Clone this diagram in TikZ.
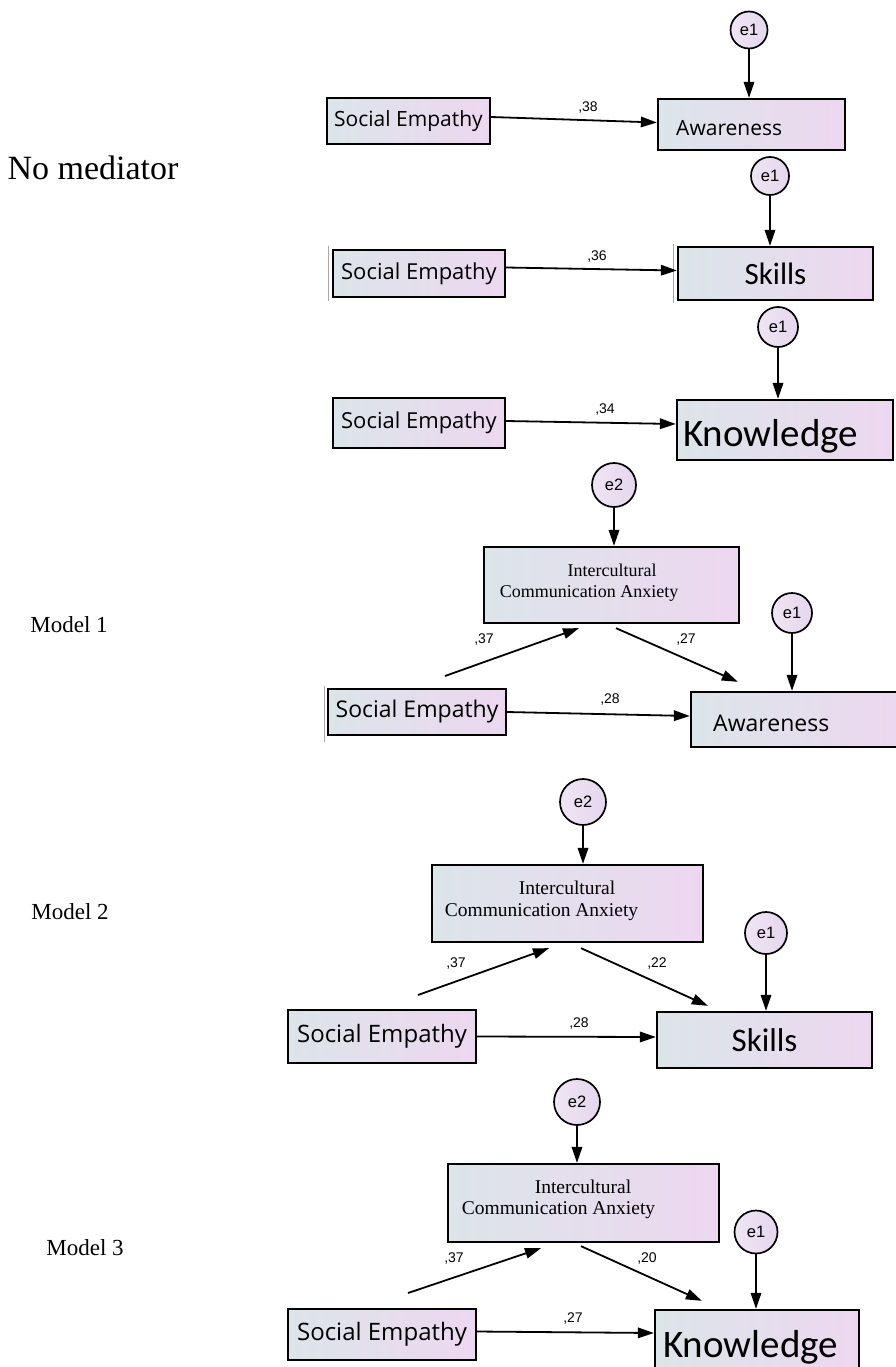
\documentclass[tikz,border=0pt]{standalone}
\usepackage{fontspec}
\setmainfont{Liberation Serif}
\newfontfamily\osans{Open Sans}
\newfontfamily\calib{Carlito}
\newfontfamily\arialf{Liberation Sans}
\usetikzlibrary{arrows.meta,calc}
\definecolor{boxL}{HTML}{DCE5E9}
\definecolor{boxR}{HTML}{EDD7F0}
\definecolor{cirL}{HTML}{EFE5F3}
\definecolor{cirR}{HTML}{E5D6EE}
\tikzset{
  box/.style={draw=black, line width=2.3pt, left color=boxL, right color=boxR, inner sep=0pt},
  err/.style={circle, draw=black, line width=1.7pt, left color=cirL, right color=cirR, inner sep=0pt,
    font=\arialf\fontsize{16.5}{16.5}\selectfont},
  arr/.style={line width=1.8pt, -{Triangle[length=16pt,width=10.5pt]}},
  coef/.style={font=\arialf\fontsize{14}{14}\selectfont, inner sep=0pt},
  ttl/.style={inner sep=0pt},
  icat/.style={inner sep=0pt, font=\fontsize{18}{18}\selectfont},
  thin/.style={draw=gray!70, line width=0.7pt}
}
\begin{document}
\begin{tikzpicture}[x=1pt,y=-1pt]
\fill[white] (0,0) rectangle (896,1367);
\useasboundingbox (0,0) rectangle (896,1367);

% ---------- No mediator ----------
\node[ttl, font=\fontsize{34}{34}\selectfont] (nomed) at (93,168) {No mediator};

% section 1
\node[err, minimum size=37pt] (e1a) at (749,30) {e1};
\node[box, minimum width=163pt, minimum height=46pt, font=\osans\fontsize{21}{21}\selectfont] (se1) at (408.5,121) {Social Empathy};
\node[box, minimum width=187pt, minimum height=51pt] (aw1) at (751.5,124.5) {};
\node[ttl, anchor=west, font=\osans\fontsize{21}{21}\selectfont] (aw1t) at (676,128) {Awareness};
\draw[arr] ($(se1.east)+(0,-4)$) -- ($(aw1.west)+(0,-2)$);
\draw[arr] (e1a) -- (e1a |- aw1.north);
\node[coef] (c38) at (588,108) {,38};

% section 2
\node[err, minimum size=38pt] (e1b) at (770,176) {e1};
\node[box, minimum width=195pt, minimum height=53pt, font=\calib\fontsize{31}{31}\selectfont] (sk2) at (775.5,273.5) {Skills};
\node[box, minimum width=172pt, minimum height=47pt, font=\osans\fontsize{22}{22}\selectfont] (se2) at (419,273.5) {Social Empathy};
\draw[thin] ($(sk2.north west)+(-4,-2)$) -- ($(sk2.south west)+(-4,2)$);
\draw[thin] ($(se2.north west)+(-4,-3)$) -- ($(se2.south west)+(-4,3)$);
\draw[arr] ($(se2.east)+(0,-6)$) -- ($(sk2.west)+(0,-3)$);
\draw[arr] (e1b) -- (e1b |- sk2.north);
\node[coef] (c36) at (597,257) {,36};

% section 3
\node[err, minimum size=40pt] (e1c) at (778,327) {e1};
\node[box, minimum width=216pt, minimum height=60pt] (kn3) at (785,430) {};
\node[ttl, anchor=west, font=\calib\fontsize{39}{39}\selectfont] (kn3t) at (683,436) {Knowledge};
\node[box, minimum width=172pt, minimum height=50pt, font=\osans\fontsize{22}{22}\selectfont] (se3) at (419,423) {Social Empathy};
\draw[arr] ($(se3.east)+(0,-2)$) -- ($(kn3.west)+(0,-6)$);
\draw[arr] (e1c) -- (e1c |- kn3.north);
\node[coef] (c34) at (605,410) {,34};

% ---------- Model 1 ----------
\node[ttl, font=\fontsize{23}{23}\selectfont] (m1) at (69,625) {Model 1};
\node[err, minimum size=44pt] (e2m1) at (614,485) {e2};
\node[box, minimum width=255pt, minimum height=76pt] (ica1) at (611.5,585) {};
\node[icat] (ica1a) at (612,570) {Intercultural};
\node[icat] (ica1b) at (589,593) {Communication Anxiety};
\draw[arr] (e2m1) -- (e2m1 |- ica1.north);
\node[err, minimum size=40pt] (e1m1) at (792,613) {e1};
\node[box, minimum width=214pt, minimum height=55pt] (aw4) at (798,719.5) {};
\node[ttl, anchor=west, font=\osans\fontsize{23}{23}\selectfont] (aw4t) at (713,723) {Awareness};
\node[box, minimum width=178pt, minimum height=46pt, font=\osans\fontsize{23}{23}\selectfont] (se4) at (417,712) {Social Empathy};
\draw[thin] ($(se4.north west)+(-3,-2)$) -- ($(se4.south west)+(-3,6)$);
\draw[arr] (se4.east) -- ($(aw4.west)+(0,-3.5)$);
\draw[arr] (e1m1) -- (e1m1 |- aw4.north);
\coordinate (m1a) at (445,676);
\draw[arr] (m1a) -- ($(ica1.south)+(-32.5,4)$);
\draw[arr] ($(ica1.south)+(4.5,4)$) -- ($(aw4.north west)+(48,-9)$);
\node[coef] (c28a) at (610,700) {,28};
\node[coef] (c37a) at (484,640) {,37};
\node[coef] (c27a) at (686,640) {,27};

% ---------- Model 2 ----------
\node[ttl, font=\fontsize{23}{23}\selectfont] (m2) at (70,912) {Model 2};
\node[err, minimum size=46pt] (e2m2) at (583,802) {e2};
\node[box, minimum width=271pt, minimum height=77pt] (ica2) at (567.5,903.5) {};
\node[icat, font=\fontsize{19.5}{19.5}\selectfont] (ica2a) at (567,888) {Intercultural};
\node[icat, font=\fontsize{19.5}{19.5}\selectfont] (ica2b) at (541.5,912) {Communication Anxiety};
\draw[arr] (e2m2) -- (e2m2 |- ica2.north);
\node[err, minimum size=42pt] (e1m2) at (766,933) {e1};
\node[box, minimum width=215pt, minimum height=56pt, font=\calib\fontsize{33}{33}\selectfont] (sk5) at (764.5,1040) {Skills};
\node[box, minimum width=188pt, minimum height=53pt, font=\osans\fontsize{24}{24}\selectfont] (se5) at (382,1036.5) {Social Empathy};
\draw[arr] (se5.east) -- ($(sk5.west)+(0,-3)$);
\draw[arr] (e1m2) -- (e1m2 |- sk5.north);
\coordinate (m2a) at (418,995);
\draw[arr] (m2a) -- ($(ica2.south)+(-18.5,5)$);
\draw[arr] ($(ica2.south)+(13.5,5)$) -- ($(sk5.north west)+(52,-5)$);
\node[coef] (c28b) at (579,1023) {,28};
\node[coef] (c37b) at (456,963) {,37};
\node[coef] (c22b) at (657,963) {,22};

% ---------- Model 3 ----------
\node[ttl, font=\fontsize{23}{23}\selectfont] (m3) at (85,1248) {Model 3};
\node[err, minimum size=46pt] (e2m3) at (577,1102) {e2};
\node[box, minimum width=271pt, minimum height=78pt] (ica3) at (583.5,1203) {};
\node[icat, font=\fontsize{19.5}{19.5}\selectfont] (ica3a) at (583,1187) {Intercultural};
\node[icat, font=\fontsize{19.5}{19.5}\selectfont] (ica3b) at (558.5,1210) {Communication Anxiety};
\draw[arr] (e2m3) -- (e2m3 |- ica3.north);
\node[err, minimum size=43pt] (e1m3) at (756,1232) {e1};
\node[box, minimum width=204pt, minimum height=62pt] (kn6) at (757,1341) {};
\node[ttl, anchor=west, font=\calib\fontsize{39}{39}\selectfont] (kn6t) at (663,1347) {Knowledge};
\node[box, minimum width=188pt, minimum height=51pt, font=\osans\fontsize{24}{24}\selectfont] (se6) at (382,1334.5) {Social Empathy};
\draw[arr] ($(se6.east)+(0,-3)$) -- ($(kn6.west)+(0,-8)$);
\draw[arr] (e1m3) -- (e1m3 |- kn6.north);
\coordinate (m3a) at (408,1293);
\draw[arr] (m3a) -- ($(ica3.south)+(-42.5,5)$);
\draw[arr] ($(ica3.south)+(-2.5,3)$) -- ($(kn6.north west)+(48,-8)$);
\node[coef] (c27c) at (573,1318) {,27};
\node[coef] (c37c) at (454,1258) {,37};
\node[coef] (c20c) at (647,1258) {,20};
\end{tikzpicture}
\end{document}
